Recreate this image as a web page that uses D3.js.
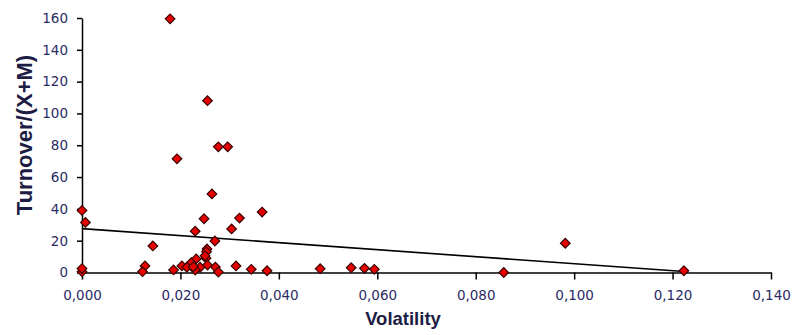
<!DOCTYPE html>
<html>
<head>
<meta charset="utf-8">
<script src="https://cdn.jsdelivr.net/npm/d3@7"></script>
<style>
  body { margin: 0; background: #fff; }
  .tick text { font-family: "DejaVu Sans", sans-serif; font-size: 13.5px; fill: #2b2b66; }
  .axis-title { font-family: "Liberation Sans", Arial, sans-serif; font-weight: bold; fill: #1c1c44; }
</style>
</head>
<body>
<div id="chart"></div>
<script>
// volatility (x) and turnover/(X+M) (y)
var volatility = [
  0.0000, 0.0007, 0.0000, 0.0000, 0.0179, 0.0255, 0.0277, 0.0296, 0.0193, 0.0264,
  0.0366, 0.0248, 0.0320, 0.0304, 0.0230, 0.0270, 0.0144, 0.0254, 0.0253, 0.0252,
  0.0250, 0.0232, 0.0222, 0.0255, 0.0240, 0.0203, 0.0213, 0.0230, 0.0271, 0.0277,
  0.0186, 0.0128, 0.0123, 0.0313, 0.0344, 0.0376, 0.0484, 0.0547, 0.0574, 0.0594,
  0.0857, 0.0982, 0.1223, 0.0226
];
var turnover = [
  39, 31.5, 0.5, 2.5, 159.5, 108, 79, 79, 71.5, 49.4,
  38, 33.8, 34.2, 27.4, 26, 19.8, 16.7, 14.8, 13, 9,
  10.5, 8.5, 6.2, 4.7, 3.3, 4.1, 3.3, 1.5, 3.4, 0.3,
  1.6, 4.1, 0.5, 4.1, 2, 1.1, 2.4, 3, 2.6, 2,
  0, 18.4, 1.1, 3.6
];
// linear trend line end points
var trendX = [0, 0.1223];
var trendY = [27.6, 0.6];

var xTicks = [0, 0.02, 0.04, 0.06, 0.08, 0.1, 0.12, 0.14];
var yTicks = [0, 20, 40, 60, 80, 100, 120, 140, 160];

var width = 794, height = 335;
var margin = { top: 18, right: 23, bottom: 62.5, left: 82 };

var svg = d3.select("#chart")
  .append("svg")
  .attr("width", width)
  .attr("height", height);

var x = d3.scaleLinear().domain([0, 0.14]).range([margin.left, width - margin.right]);
var y = d3.scaleLinear().domain([0, 160]).range([height - margin.bottom, margin.top]);

var fmt = d3.format(".3f");

// axes
var xAxis = svg.append("g")
  .attr("transform", "translate(0," + y(0) + ")")
  .call(d3.axisBottom(x).tickValues(xTicks).tickSize(7).tickSizeOuter(0).tickPadding(11)
    .tickFormat((d) => fmt(d).replace(".", ",")));

var yAxis = svg.append("g")
  .attr("transform", "translate(" + x(0) + ",0)")
  .call(d3.axisLeft(y).tickValues(yTicks).tickSize(5).tickSizeOuter(0).tickPadding(9));

svg.selectAll(".domain, .tick line")
  .attr("stroke", "#000")
  .attr("stroke-width", 1.5);

// trend line
var pts = trendX.map((d, i) => [d, trendY[i]]);
svg.append("path")
  .datum(pts)
  .attr("fill", "none")
  .attr("stroke", "#000")
  .attr("stroke-width", 1.6)
  .attr("d", d3.line().x((d) => x(d[0])).y((d) => y(d[1])));

// points
var diamond = d3.symbol().type(d3.symbolSquare).size(46);
svg.selectAll(".pt")
  .data(volatility)
  .enter()
  .append("path")
  .attr("class", "pt")
  .attr("d", diamond)
  .attr("transform", (d, i) => "translate(" + x(d) + "," + y(turnover[i]) + ") rotate(45)")
  .attr("fill", "#e60000")
  .attr("stroke", "#3a0000")
  .attr("stroke-width", 1.2);

// axis titles
svg.append("text")
  .attr("class", "axis-title")
  .attr("x", 403)
  .attr("y", 325)
  .attr("text-anchor", "middle")
  .style("font-size", "18.5px")
  .text("Volatility");

svg.append("text")
  .attr("class", "axis-title")
  .attr("transform", "translate(32,135) rotate(-90)")
  .attr("text-anchor", "middle")
  .style("font-size", "22px")
  .text("Turnover/(X+M)");
</script>
</body>
</html>
